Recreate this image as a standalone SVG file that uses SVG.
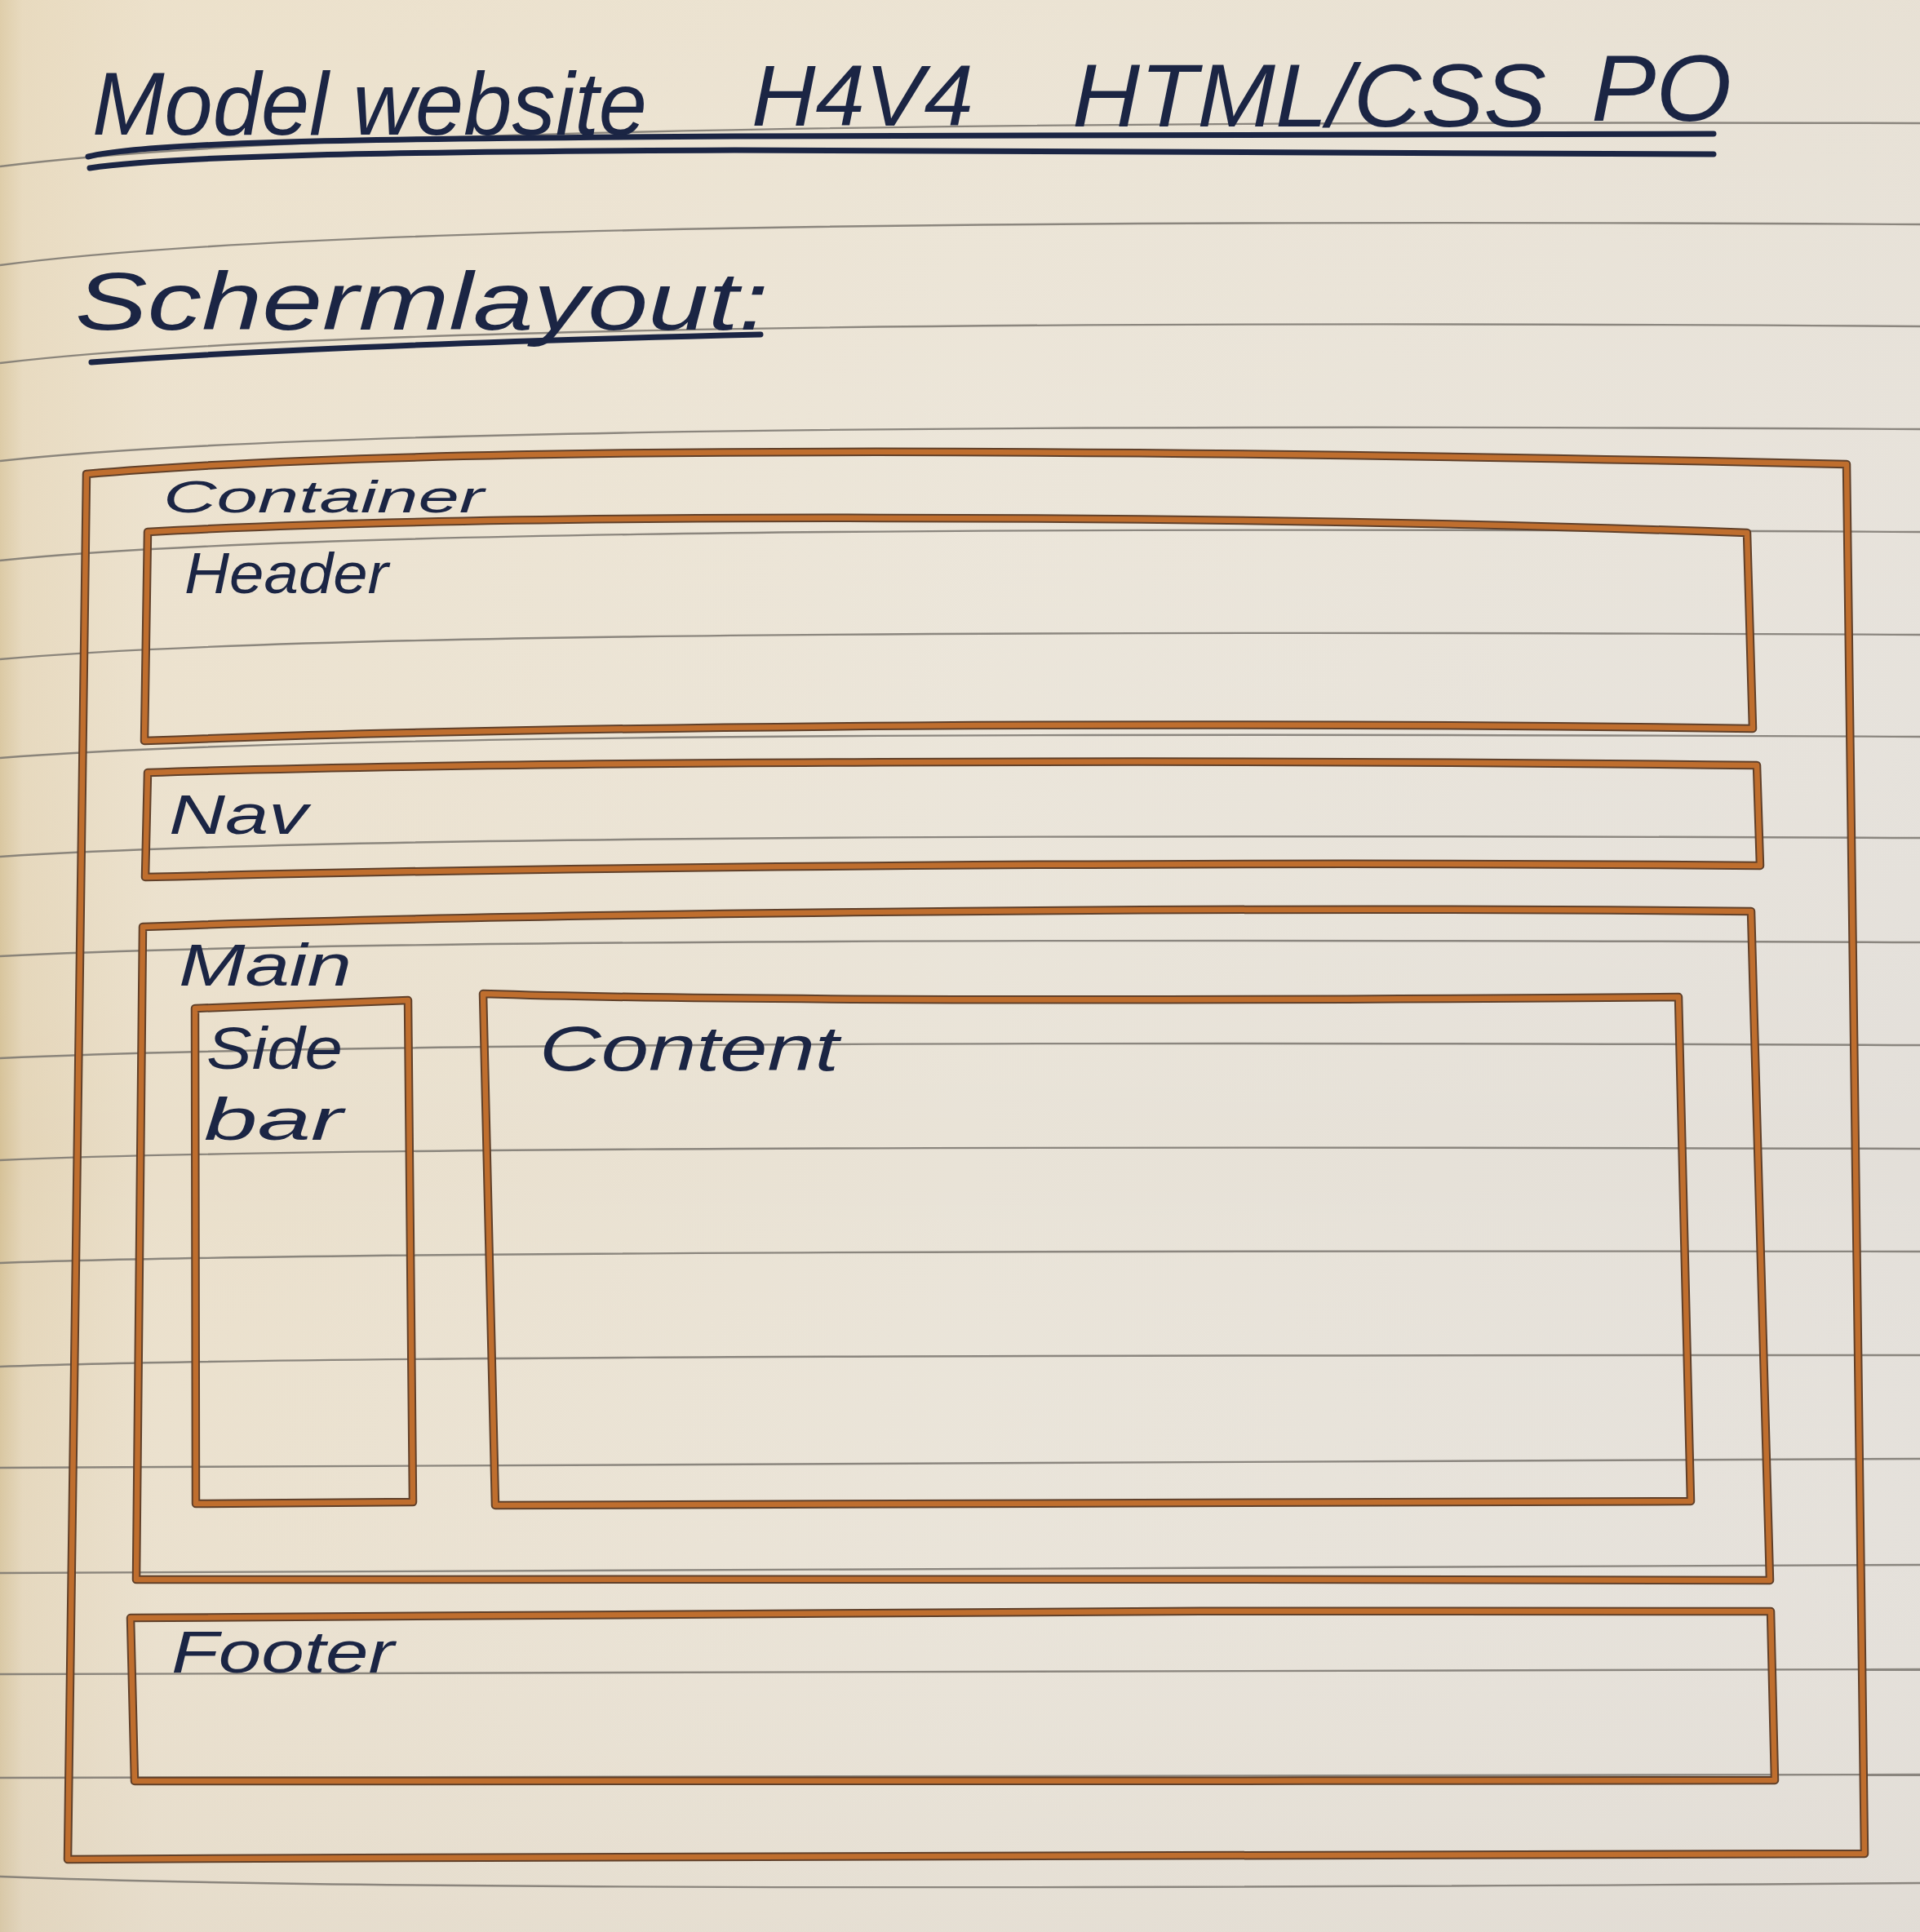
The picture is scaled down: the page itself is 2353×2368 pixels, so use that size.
<svg xmlns="http://www.w3.org/2000/svg" xmlns:xlink="http://www.w3.org/1999/xlink" width="2353" height="2368" viewBox="0 0 2353 2368">
  <style>
    .rule { fill: none; stroke: #7a756e; stroke-width: 2.4; opacity: 0.85; }
    .edge-dark { fill: none; stroke: #60402a; stroke-width: 10.5; stroke-linecap: round; stroke-linejoin: round; }
    .edge-core { fill: none; stroke: #bf6e2e; stroke-width: 6.5; stroke-linecap: round; stroke-linejoin: round; }
    .ink { font-family: "Liberation Sans", "DejaVu Sans", sans-serif; font-style: italic; fill: #1b2544; }
    .ink-line { fill: none; stroke: #1b2544; stroke-linecap: round; }
  </style>
  <defs>
    <linearGradient id="paper-h" x1="0" y1="0" x2="1" y2="0">
      <stop offset="0" stop-color="#d6c298"/>
      <stop offset="0.012" stop-color="#e4d5b8"/>
      <stop offset="0.08" stop-color="#eadfca"/>
      <stop offset="0.5" stop-color="#e9e3d7"/>
      <stop offset="1" stop-color="#e3dfd9"/>
    </linearGradient>
    <linearGradient id="paper-v" x1="0" y1="0" x2="0" y2="1">
      <stop offset="0" stop-color="#f0e4cc" stop-opacity="0.35"/>
      <stop offset="0.6" stop-color="#ffffff" stop-opacity="0"/>
      <stop offset="1" stop-color="#ddd6cc" stop-opacity="0.3"/>
    </linearGradient>
    <!-- box outlines, drawn twice: dark rim then orange marker core -->
    <path id="p-container" d="M106,581 C 500,546 1300,548 2263,569 L 2285,2272 C 1500,2268 800,2276 83,2279 Z"/>
    <path id="p-header" d="M181,652 C 600,628 1500,630 2141,653 L 2148,893 C 1500,884 700,888 177,908 Z"/>
    <path id="p-nav" d="M181,947 C 600,933 1500,930 2153,938 L 2157,1061 C 1500,1055 700,1062 178,1075 Z"/>
    <path id="p-main" d="M175,1136 C 600,1120 1500,1110 2146,1117 L 2169,1937 C 1500,1935 800,1935 167,1936 Z"/>
    <path id="p-sidebar" d="M239,1236 L500,1226 L506,1841 L240,1843 Z"/>
    <path id="p-content" d="M592,1218 C 900,1228 1600,1226 2057,1222 L 2072,1840 L 607,1845 Z"/>
    <path id="p-footer" d="M160,1983 C 700,1978 1500,1972 2170,1975 L 2175,2182 C 1500,2183 800,2183 165,2183 Z"/>
  </defs>

  <!-- notebook paper -->
  <g id="paper">
    <rect x="0" y="0" width="2353" height="2368" fill="url(#paper-h)"/>
    <rect x="0" y="0" width="2353" height="2368" fill="url(#paper-v)"/>
  </g>

  <!-- ruled lines of the notebook page (curling slightly near the binding) -->
  <g id="ruled-lines">
    <path class="rule" d="M0,204 C 300,166 1000,147 2353,151"/>
    <path class="rule" d="M0,325 C 300,285 1000,267 2353,275"/>
    <path class="rule" d="M0,445 C 300,409 1000,390 2353,400"/>
    <path class="rule" d="M0,565 C 300,532 1000,518 2353,526"/>
    <path class="rule" d="M0,687 C 300,656 1000,644 2353,652"/>
    <path class="rule" d="M0,808 C 300,781 1000,771 2353,778"/>
    <path class="rule" d="M0,929 C 300,905 1000,896 2353,903"/>
    <path class="rule" d="M0,1050 C 300,1030 1000,1021 2353,1027"/>
    <path class="rule" d="M0,1172 C 300,1156 1000,1149 2353,1155"/>
    <path class="rule" d="M0,1297 C 300,1283 1000,1275 2353,1281"/>
    <path class="rule" d="M0,1422 C 300,1409 1000,1404 2353,1408"/>
    <path class="rule" d="M0,1548 C 300,1537 1000,1532 2353,1534"/>
    <path class="rule" d="M0,1675 C 300,1664 1000,1661 2353,1661"/>
    <path class="rule" d="M0,1799 C 300,1793 1000,1791 2353,1788"/>
    <path class="rule" d="M0,1928 C 300,1923 1000,1923 2353,1918"/>
    <path class="rule" d="M0,2052 C 300,2051 1000,2053 2353,2046"/>
    <path class="rule" d="M0,2179 C 300,2180 1000,2184 2353,2175"/>
    <path class="rule" d="M0,2300 C 300,2312 1000,2318 2353,2308"/>
  </g>

  <!-- page heading with double underline -->
  <g id="title">
    <text class="ink" x="113" y="165" font-size="110" textLength="680" lengthAdjust="spacingAndGlyphs">Model website</text>
    <text class="ink" x="921" y="154" font-size="105" textLength="272" lengthAdjust="spacingAndGlyphs">H4V4</text>
    <text class="ink" x="1314" y="155" font-size="110" textLength="581" lengthAdjust="spacingAndGlyphs">HTML/CSS</text>
    <text class="ink" x="1950" y="148" font-size="115" textLength="172" lengthAdjust="spacingAndGlyphs">PO</text>
    <path class="ink-line" stroke-width="7" d="M108,192 C 180,175 400,170 900,167 C 1500,164 1900,163 2100,164"/>
    <path class="ink-line" stroke-width="7" d="M110,206 C 200,192 450,186 900,184 C 1500,183 1900,186 2100,189"/>
  </g>

  <g id="subtitle">
    <text class="ink" x="92" y="404" font-size="100" textLength="850" lengthAdjust="spacingAndGlyphs">Schermlayout:</text>
    <path class="ink-line" stroke-width="7" d="M112,444 C 300,430 600,418 932,410"/>
  </g>

  <!-- layout boxes -->
  <g id="container">
    <use xlink:href="#p-container" class="edge-dark" stroke-width="12"/>
    <use xlink:href="#p-container" class="edge-core" stroke-width="7.5"/>
    <text class="ink" x="200" y="628" font-size="56" textLength="393" lengthAdjust="spacingAndGlyphs">Container</text>
  </g>
  <g id="header">
    <use xlink:href="#p-header" class="edge-dark"/>
    <use xlink:href="#p-header" class="edge-core"/>
    <text class="ink" x="226" y="727" font-size="70" textLength="250" lengthAdjust="spacingAndGlyphs">Header</text>
  </g>
  <g id="nav">
    <use xlink:href="#p-nav" class="edge-dark"/>
    <use xlink:href="#p-nav" class="edge-core"/>
    <text class="ink" x="207" y="1022" font-size="68" textLength="170" lengthAdjust="spacingAndGlyphs">Nav</text>
  </g>
  <g id="main">
    <use xlink:href="#p-main" class="edge-dark"/>
    <use xlink:href="#p-main" class="edge-core"/>
    <text class="ink" x="219" y="1208" font-size="72" textLength="212" lengthAdjust="spacingAndGlyphs">Main</text>
  </g>
  <g id="sidebar">
    <use xlink:href="#p-sidebar" class="edge-dark"/>
    <use xlink:href="#p-sidebar" class="edge-core"/>
    <text class="ink" x="253" y="1310" font-size="72" textLength="167" lengthAdjust="spacingAndGlyphs">Side</text>
    <text class="ink" x="250" y="1397" font-size="72" textLength="170" lengthAdjust="spacingAndGlyphs">bar</text>
  </g>
  <g id="content">
    <use xlink:href="#p-content" class="edge-dark"/>
    <use xlink:href="#p-content" class="edge-core"/>
    <text class="ink" x="661" y="1312" font-size="78" textLength="367" lengthAdjust="spacingAndGlyphs">Content</text>
  </g>
  <g id="footer">
    <use xlink:href="#p-footer" class="edge-dark"/>
    <use xlink:href="#p-footer" class="edge-core"/>
    <text class="ink" x="210" y="2050" font-size="72" textLength="273" lengthAdjust="spacingAndGlyphs">Footer</text>
  </g>
</svg>
